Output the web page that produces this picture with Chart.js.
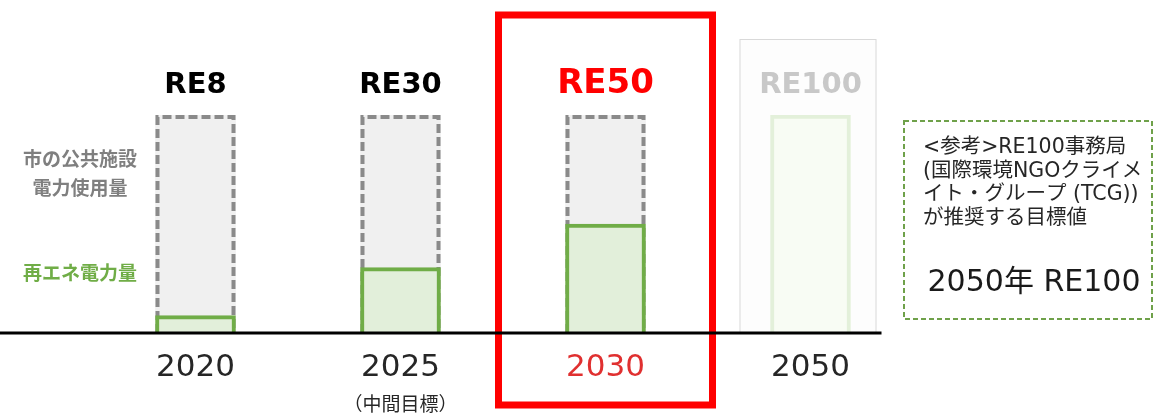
<!DOCTYPE html>
<html>
<head>
<meta charset="utf-8">
<script src="https://cdn.jsdelivr.net/npm/chart.js@4/dist/chart.umd.min.js"></script>
<style>
  html, body { margin: 0; padding: 0; background: #ffffff; }
  canvas { display: block; }
</style>
</head>
<body>
<canvas id="chart" width="1156" height="417"></canvas>
<script>
// Target years and their renewable-electricity share (%) of municipal facility usage
const years = ['2020', '2025', '2030', '2050'];
const yearNotes = ['', '（中間目標）', '', ''];
const renewableShare = [8, 30, 50, 100];
const totalUsage = [100, 100, 100, null];
const highlightIndex = 2;   // current target year
const referenceIndex = 3;   // RE100 reference year
const totalLabelLines = ['市の公共施設', '電力使用量'];
const renewableLabelLines = ['再エネ電力量'];
const noteLines = ['<参考>RE100事務局', '(国際環境NGOクライメ', 'イト・グループ (TCG))', 'が推奨する目標値'];
const noteTarget = '2050年 RE100';

const GREEN = '#70ad47';
const GREEN_FILL = '#e2efda';
const GRAY = '#8a8a8a';
const GRAY_FILL = '#f0f0f0';
const RED = '#ff0000';
const LATIN = "'DejaVu Sans', 'Noto Sans CJK JP', sans-serif";
const CJK = "'Noto Sans CJK JP', sans-serif";

// Light frame behind the RE100 reference column
const referenceFrame = {
  id: 'referenceFrame',
  beforeDatasetsDraw(chart) {
    const { ctx, scales: { x, y } } = chart;
    const cx = x.getPixelForValue(referenceIndex);
    const base = y.getPixelForValue(0);
    ctx.save();
    ctx.fillStyle = '#fdfdfd';
    ctx.strokeStyle = '#d9d9d9';
    ctx.lineWidth = 1;
    ctx.fillRect(cx - 71, 39, 137, base - 39);
    ctx.strokeRect(cx - 71 + 0.5, 39.5, 136, base - 39);
    ctx.restore();
  }
};

// Dashed outline around the total-usage columns
const dashedTotals = {
  id: 'dashedTotals',
  afterDatasetDraw(chart, args) {
    if (args.index !== 1) return;
    const { ctx } = chart;
    ctx.save();
    ctx.strokeStyle = GRAY;
    ctx.lineWidth = 4;
    ctx.setLineDash([9, 4]);
    args.meta.data.forEach((bar, i) => {
      if (totalUsage[i] == null) return;
      const { x, y, base, width } = bar.getProps(['x', 'y', 'base', 'width'], true);
      const l = x - width / 2 + 2, r = x + width / 2 - 2, t = y + 2;
      ctx.beginPath();
      ctx.moveTo(l, base);
      ctx.lineTo(l, t);
      ctx.lineTo(r, t);
      ctx.lineTo(r, base);
      ctx.stroke();
    });
    ctx.restore();
  }
};

// Column titles, highlight frame, baseline, side labels and note box
const annotations = {
  id: 'annotations',
  afterDraw(chart) {
    const { ctx, scales: { x, y } } = chart;
    const base = y.getPixelForValue(0);
    const top = y.getPixelForValue(100);
    ctx.save();

    // highlight frame around the current target year
    const hx = x.getPixelForValue(highlightIndex);
    ctx.strokeStyle = RED;
    ctx.lineWidth = 7;
    ctx.strokeRect(hx - 107, 15, 214, 390);

    // baseline
    const rx = x.getPixelForValue(referenceIndex);
    ctx.fillStyle = '#000000';
    ctx.fillRect(0, base - 1.5, rx + 71, 3);

    // RE titles above each column
    ctx.textAlign = 'center';
    ctx.textBaseline = 'alphabetic';
    renewableShare.forEach((v, i) => {
      const cx = x.getPixelForValue(i);
      let size = 29, color = '#000000';
      if (i === highlightIndex) { size = 34; color = RED; }
      if (i === referenceIndex) { size = 29; color = '#c8c8c8'; }
      ctx.font = `bold ${size}px ${LATIN}`;
      ctx.fillStyle = color;
      ctx.fillText('RE' + v, cx, top - 22);
    });

    // secondary year notes
    ctx.font = `19px ${CJK}`;
    ctx.fillStyle = '#262626';
    ctx.textBaseline = 'middle';
    yearNotes.forEach((n, i) => {
      if (n) ctx.fillText(n, x.getPixelForValue(i), 404);
    });

    // side labels for the two series
    ctx.font = `bold 19px ${CJK}`;
    ctx.fillStyle = '#7f7f7f';
    totalLabelLines.forEach((t, i) => ctx.fillText(t, 80, 159 + i * 29));
    ctx.fillStyle = GREEN;
    renewableLabelLines.forEach((t, i) => ctx.fillText(t, 80, 273 + i * 29));

    // reference note box
    ctx.strokeStyle = '#6fa14a';
    ctx.lineWidth = 2;
    ctx.setLineDash([5, 3]);
    ctx.strokeRect(904, 121, 248, 198);
    ctx.setLineDash([]);
    ctx.textAlign = 'left';
    ctx.fillStyle = '#262626';
    ctx.font = `20.5px ${LATIN}`;
    noteLines.forEach((t, i) => ctx.fillText(t, 923, 148 + i * 23.4));
    ctx.textAlign = 'center';
    ctx.font = `30px ${LATIN}`;
    ctx.fillStyle = '#1a1a1a';
    ctx.fillText(noteTarget, 1034, 283);

    ctx.restore();
  }
};

new Chart(document.getElementById('chart'), {
  type: 'bar',
  data: {
    labels: years,
    datasets: [
      {
        label: renewableLabelLines.join(''),
        data: renewableShare,
        grouped: false,
        barThickness: 80,
        backgroundColor: (c) => c.dataIndex === referenceIndex ? '#f8fcf4' : GREEN_FILL,
        borderColor: (c) => c.dataIndex === referenceIndex ? '#e3f0da' : GREEN,
        borderWidth: 4,
        borderSkipped: 'start'
      },
      {
        label: totalLabelLines.join(''),
        data: totalUsage,
        grouped: false,
        barThickness: 80,
        backgroundColor: GRAY_FILL,
        borderWidth: 0
      }
    ]
  },
  options: {
    responsive: false,
    animation: false,
    events: [],
    layout: { padding: { left: 93, right: 243, top: 115, bottom: 0 } },
    plugins: { legend: { display: false }, tooltip: { enabled: false } },
    scales: {
      x: {
        grid: { display: false, drawTicks: false },
        border: { display: false },
        ticks: {
          font: { family: LATIN, size: 31 },
          color: (c) => c.index === highlightIndex ? '#e03030' : '#262626',
          padding: 16
        },
        afterFit: (s) => { s.height = 84; }
      },
      y: { display: false, min: 0, max: 100 }
    }
  },
  plugins: [referenceFrame, dashedTotals, annotations]
});
</script>
</body>
</html>
